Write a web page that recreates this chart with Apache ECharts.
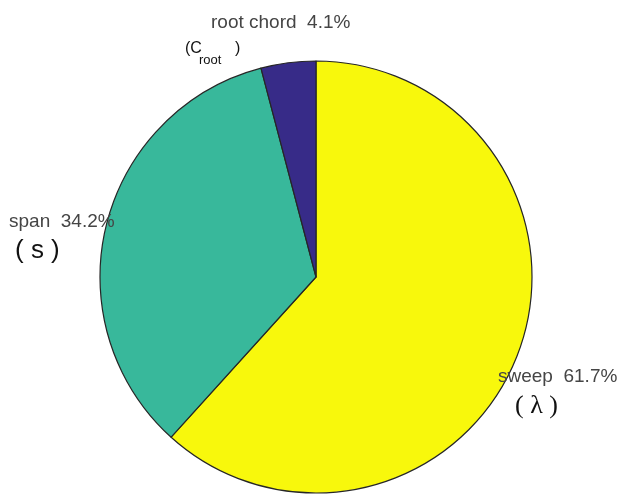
<!DOCTYPE html>
<html>
<head>
<meta charset="utf-8">
<script src="https://cdn.jsdelivr.net/npm/echarts@6/dist/echarts.min.js"></script>
<style>
  html, body { margin: 0; padding: 0; background: #ffffff; }
  #chart { width: 622px; height: 494px; }
</style>
</head>
<body>
<div id="chart"></div>
<script>
// Share of each wing parameter (percent), drawn clockwise from 12 o'clock
const categories = ['sweep', 'span', 'root chord'];
const shares = [61.7, 34.2, 4.1];
const sliceColors = ['#f8f80c', '#38b89b', '#372b88'];

// Where each slice label sits (left edge, vertical middle)
const labelSpots = [[498, 377], [9, 222], [211, 23]];

const chart = echarts.init(document.getElementById('chart'), null, { renderer: 'canvas' });

const sansFont = '"Liberation Sans", Arial, Helvetica, sans-serif';

chart.setOption({
  animation: false,
  backgroundColor: '#ffffff',
  series: [{
    type: 'pie',
    center: [316, 277],
    radius: 216,
    startAngle: 90,
    clockwise: true,
    avoidLabelOverlap: false,
    data: categories.map((name, i) => ({
      name: name,
      value: shares[i],
      itemStyle: { color: sliceColors[i] }
    })),
    itemStyle: { borderColor: '#262626', borderWidth: 1.2 },
    emphasis: { disabled: true },
    label: {
      show: true,
      position: 'outside',
      formatter: p => p.name + '  ' + p.value.toFixed(1) + '%',
      fontFamily: sansFont,
      fontSize: 19,
      color: '#454545'
    },
    labelLine: { show: false },
    labelLayout: p => ({
      x: labelSpots[p.dataIndex][0],
      y: labelSpots[p.dataIndex][1],
      align: 'left',
      verticalAlign: 'middle'
    })
  }],
  graphic: [
    // symbol notes under each label
    { type: 'text', left: 185, top: 41, z: 10,
      style: { text: '(C', font: '16px ' + sansFont, fill: '#111' } },
    { type: 'text', left: 199, top: 54, z: 10,
      style: { text: 'root', font: '13px ' + sansFont, fill: '#111' } },
    { type: 'text', left: 235, top: 41, z: 10,
      style: { text: ')', font: '16px ' + sansFont, fill: '#111' } },
    { type: 'text', left: 15, top: 238, z: 10,
      style: { text: '( s )', font: '26px ' + sansFont, fill: '#111' } },
    { type: 'text', left: 515, top: 393, z: 10,
      style: { text: '( λ )', font: '26px "Liberation Serif", "Times New Roman", serif', fill: '#111' } }
  ]
});
</script>
</body>
</html>
